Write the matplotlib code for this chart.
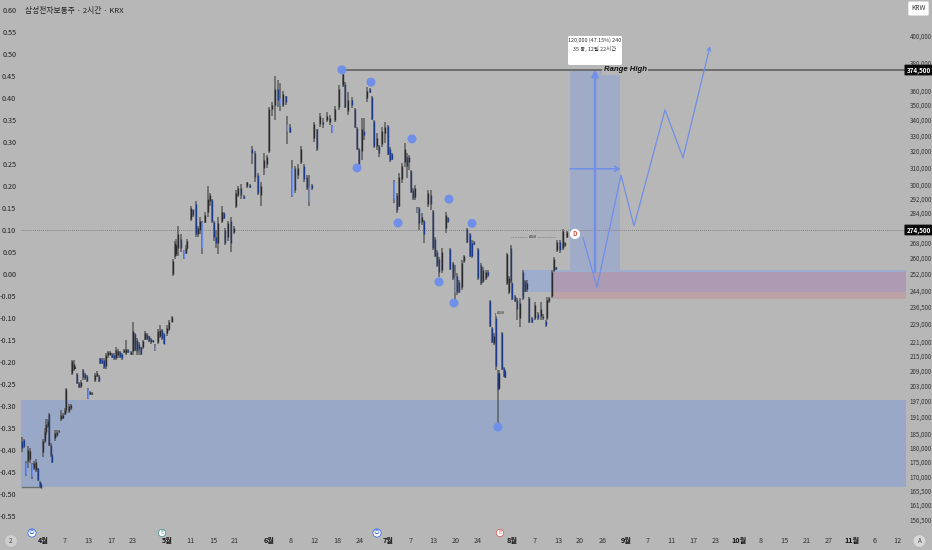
import matplotlib
matplotlib.use('Agg')
import matplotlib.pyplot as plt
from matplotlib.patches import Rectangle, FancyBboxPatch
from matplotlib.ticker import NullLocator

plt.rcParams['font.family'] = ['Noto Sans CJK KR', 'DejaVu Sans']
plt.rcParams['axes.unicode_minus'] = False

BG = '#b7b7b7'
NAVY = '#1c3a8c'
LIGHT = '#6f8fe8'

# chart time in bar units, then percent scale values
bar_time = [
    22, 24, 26, 28, 30, 32, 34, 36, 38, 40,
    41, 43, 45, 46, 48, 49, 51, 52, 55, 57,
    59, 61, 63, 65, 66, 69, 71, 72, 74, 75,
    77, 79, 81, 83, 85, 87, 88, 90, 92, 95,
    97, 99, 100, 102, 104, 106, 108, 110, 112, 114,
    116, 118, 120, 122, 124, 126, 128, 131, 133, 135,
    137, 139, 141, 143, 145, 147, 149, 151, 153, 155,
    158, 160, 162, 164, 167, 169, 172, 173, 175, 176,
    178, 181, 184, 186, 187, 191, 193, 196, 198, 200,
    202, 205, 208, 210, 212, 214, 216, 218, 222, 224,
    225, 228, 231, 234, 236, 238, 241, 244, 247, 250,
    252, 255, 258, 261, 264, 267, 269, 272, 275, 278,
    280, 283, 286, 287, 290, 292, 295, 298, 301, 304,
    307, 309, 312, 314, 317, 320, 323, 327, 330, 332,
    335, 339, 343, 345, 348, 352, 355, 357, 359, 362,
    364, 367, 370, 372, 374, 377, 379, 382, 385, 388,
    390, 392, 394, 397, 399, 402, 405, 407, 409, 411,
    413, 415, 417, 419, 422, 424, 428, 431, 433, 435,
    437, 439, 442, 446, 448, 450, 453, 455, 457, 459,
    462, 464, 467, 470, 472, 474, 478, 481, 483, 486,
    488, 490, 492, 494, 496, 498, 499, 502, 504, 505,
    507, 509, 511, 512, 515, 517, 520, 523, 525, 527,
    529, 532, 535, 538, 541, 543, 546, 547, 549, 552,
    554, 556, 557, 560, 563, 565, 567,
]
highs = [
    -.370, -.375, -.425, -.390, -.395, -.430, -.425, -.420, -.440, -.470,
    -.475, -.375, -.350, -.330, -.330, -.315, -.385, -.410, -.355, -.355,
    -.355, -.310, -.315, -.305, -.260, -.295, -.295, -.195, -.195, -.210,
    -.225, -.245, -.240, -.215, -.225, -.230, -.260, -.265, -.268, -.225,
    -.220, -.230, -.190, -.190, -.190, -.180, -.175, -.175, -.180, -.180,
    -.165, -.170, -.175, -.180, -.170, -.150, -.170, -.175, -.110, -.135,
    -.145, -.155, -.165, -.150, -.130, -.135, -.140, -.145, -.150, -.160,
    -.125, -.115, -.125, -.135, -.115, -.105, -.095, .035, .075, .080,
    .110, .090, .055, .065, .080, .155, .145, .165, .110, .130,
    .120, .140, .200, .185, .170, .120, .100, .130, .155, .140,
    .105, .120, .130, .110, .190, .200, .205, .180, .210, .205,
    .290, .280, .230, .210, .275, .270, .380, .390, .450, .440,
    .435, .415, .405, .360, .340, .260, .245, .250, .290, .250,
    .225, .225, .205, .345, .330, .365, .355, .368, .361, .339,
    .382, .430, .464, .437, .414, .402, .377, .334, .286, .355,
    .355, .425, .423, .405, .350, .320, .293, .334, .345, .339,
    .289, .275, .214, .184, .230, .252, .298, .275, .270, .236,
    .195, .202, .152, .152, .139, .123, .191, .191, .145, .084,
    .055, .039, .059, .141, .130, .059, .027, .020, .002, -.014,
    .032, .043, .105, .093, .077, .075, .059, .025, .016, .009,
    .009, -.059, -.120, -.134, -.089, -.218, -.218, -.132, -.211, -.218,
    .048, -.005, .066, -.018, -.048, -.055, -.055, .009, -.014, -.014,
    -.052, -.098, -.064, -.086, -.064, -.090, -.105, -.052, -.052, .009,
    .039, .016, .077, .077, .102, .073, .098,
]
lows = [
    -.405, -.395, -.460, -.440, -.430, -.465, -.445, -.450, -.470, -.485,
    -.487, -.415, -.385, -.365, -.350, -.390, -.415, -.430, -.380, -.370,
    -.360, -.335, -.330, -.320, -.315, -.315, -.310, -.230, -.220, -.215,
    -.250, -.260, -.260, -.240, -.240, -.245, -.285, -.275, -.275, -.245,
    -.235, -.245, -.205, -.205, -.215, -.215, -.190, -.185, -.190, -.195,
    -.195, -.190, -.190, -.195, -.180, -.185, -.180, -.185, -.185, -.175,
    -.185, -.185, -.185, -.170, -.150, -.150, -.155, -.160, -.155, -.175,
    -.160, -.145, -.150, -.160, -.140, -.130, -.110, -.005, .035, .040,
    .040, .050, .035, .045, .055, .120, .130, .085, .085, .090,
    .045, .115, .130, .155, .115, .075, .060, .045, .115, .125,
    .065, .075, .050, .090, .150, .175, .170, .170, .195, .195,
    .250, .210, .180, .155, .225, .240, .275, .360, .350, .380,
    .370, .380, .385, .295, .320, .175, .185, .215, .250, .210,
    .190, .155, .190, .300, .280, .335, .332, .345, .339, .320,
    .345, .373, .425, .377, .361, .377, .332, .282, .241, .259,
    .305, .391, .411, .350, .286, .282, .266, .289, .298, .270,
    .255, .259, .161, .139, .152, .207, .243, .218, .236, .184,
    .168, .168, .139, .100, .111, .070, .152, .145, .055, .039,
    .016, -.007, .002, .093, .116, .009, -.014, -.059, -.048, -.043,
    -.036, .025, .070, .039, .036, .066, -.014, -.025, -.020, -.014,
    -.007, -.120, -.157, -.161, -.218, -.348, -.264, -.218, -.234, -.236,
    -.025, -.045, -.020, -.059, -.064, -.105, -.120, -.059, -.041, -.041,
    -.111, -.111, -.105, -.105, -.105, -.105, -.120, -.105, -.066, -.055,
    .005, .009, .050, .048, .055, .062, .082,
]
opens = [
    -.380, -.378, -.430, -.425, -.420, -.432, -.440, -.445, -.442, -.472,
    -.478, -.405, -.380, -.360, -.345, -.318, -.388, -.412, -.372, -.365,
    -.359, -.330, -.328, -.318, -.310, -.312, -.305, -.225, -.215, -.214,
    -.228, -.248, -.255, -.218, -.228, -.232, -.262, -.272, -.273, -.240,
    -.232, -.232, -.192, -.195, -.195, -.210, -.185, -.183, -.182, -.185,
    -.190, -.185, -.177, -.182, -.178, -.180, -.172, -.182, -.175, -.137,
    -.150, -.158, -.167, -.165, -.148, -.137, -.142, -.148, -.151, -.162,
    -.155, -.140, -.128, -.137, -.135, -.125, -.108, .000, .040, .045,
    .060, .080, .054, .048, .058, .125, .148, .160, .090, .100,
    .118, .118, .140, .165, .168, .118, .085, .070, .120, .138,
    .100, .085, .120, .095, .155, .180, .195, .178, .200, .203,
    .285, .275, .225, .180, .240, .250, .280, .375, .385, .420,
    .400, .385, .405, .340, .335, .240, .240, .225, .255, .245,
    .220, .200, .202, .310, .330, .340, .345, .350, .345, .338,
    .350, .380, .430, .432, .370, .395, .375, .332, .284, .280,
    .325, .400, .420, .403, .348, .290, .290, .295, .320, .337,
    .285, .272, .212, .180, .155, .215, .255, .265, .255, .234,
    .192, .175, .150, .150, .118, .120, .160, .180, .143, .080,
    .050, .035, .010, .105, .128, .057, .025, -.005, -.005, -.018,
    -.030, .030, .103, .090, .070, .073, .057, .020, -.015, -.010,
    .005, -.062, -.122, -.157, -.100, -.225, -.260, -.135, -.213, -.220,
    -.020, -.040, .060, -.020, -.050, -.060, -.100, .005, -.015, -.035,
    -.055, -.100, -.100, -.090, -.095, -.095, -.107, -.100, -.062, -.050,
    .010, .015, .055, .072, .060, .065, .085,
]
closes = [
    -.395, -.392, -.455, -.400, -.402, -.460, -.430, -.428, -.468, -.482,
    -.486, -.380, -.358, -.340, -.335, -.388, -.412, -.428, -.362, -.358,
    -.356, -.320, -.320, -.310, -.262, -.300, -.298, -.198, -.205, -.211,
    -.248, -.256, -.245, -.235, -.236, -.243, -.282, -.268, -.270, -.230,
    -.225, -.243, -.202, -.203, -.212, -.185, -.178, -.178, -.188, -.190,
    -.172, -.175, -.188, -.192, -.172, -.170, -.178, -.177, -.130, -.172,
    -.175, -.170, -.182, -.153, -.135, -.147, -.152, -.155, -.154, -.173,
    -.130, -.128, -.145, -.158, -.122, -.110, -.098, .030, .070, .065,
    .090, .060, .036, .060, .075, .150, .135, .090, .105, .120,
    .060, .135, .170, .180, .120, .085, .070, .115, .140, .128,
    .070, .115, .070, .105, .185, .195, .180, .172, .208, .198,
    .275, .220, .185, .200, .260, .265, .375, .385, .420, .395,
    .385, .410, .390, .325, .322, .180, .190, .240, .285, .215,
    .195, .165, .196, .340, .285, .360, .340, .360, .355, .322,
    .375, .420, .455, .380, .395, .385, .335, .285, .243, .330,
    .315, .415, .414, .352, .290, .310, .275, .325, .335, .272,
    .258, .262, .170, .145, .220, .245, .285, .245, .265, .186,
    .172, .195, .140, .115, .130, .090, .185, .160, .060, .042,
    .020, .005, .050, .135, .120, .012, -.008, -.040, -.040, -.040,
    .025, .040, .072, .042, .040, .068, -.010, -.020, .010, .005,
    -.003, -.118, -.155, -.140, -.210, -.262, -.225, -.215, -.232, -.234,
    .045, -.010, -.015, -.057, -.062, -.080, -.065, -.055, -.038, -.020,
    -.108, -.108, -.070, -.100, -.080, -.100, -.116, -.060, -.055, .005,
    .035, .011, .072, .055, .098, .070, .096,
]
light_bars = [26, 32, 88, 155, 184, 202, 280, 287, 292, 309, 332, 394, 417, 455]

# left scale and right price scale labels
left_ticks = [.60, .55, .50, .45, .40, .35, .30, .25, .20, .15, .10, .05, 0,
              -.05, -.10, -.15, -.20, -.25, -.30, -.35, -.40, -.45, -.50, -.55]
price_ticks = [400000, 380000, 360000, 350000, 340000, 330000, 320000, 310000,
               300000, 292000, 284000, 276000, 268000, 260000, 252000, 244000,
               236500, 229000, 221000, 215000, 209000, 203000, 197000, 191000,
               185000, 180000, 175000, 170000, 165500, 161000, 156500]
time_ticks = [43, 65, 88, 111, 133, 167, 190, 213, 235, 269, 291, 314, 337, 360,
              388, 411, 433, 456, 478, 512, 535, 558, 580, 603, 626, 648, 671,
              693, 716, 739, 761, 784, 807, 829, 852, 875, 897]
time_labels = ['4월', '7', '13', '17', '23', '5월', '11', '15', '21', '6월', '8', '12',
               '18', '24', '7월', '7', '13', '20', '24', '8월', '7', '13', '20', '26',
               '9월', '7', '11', '17', '23', '10월', '8', '15', '21', '27', '11월', '6', '12']

# drawing tool values
swing_x = [342, 371, 357, 412, 398, 449, 439, 472, 454, 498]
swing_y = [.464, .436, .241, .307, .116, .170, -.018, .115, -.066, -.348]
path_x = [583, 597, 621, 634, 665, 683, 710]
path_y = [.082, -.030, .225, .109, .373, .264, .518]

fig = plt.figure(figsize=(9.32, 5.5), dpi=100, facecolor=BG)
ax = fig.add_axes([21 / 932, 15 / 550, 885 / 932, 535 / 550], facecolor=BG)
ax.set_xlim(21, 906)
ax.set_ylim(-.5932, .6227)
for s in ax.spines.values():
    s.set_visible(False)

# zones
ax.add_patch(Rectangle((21, -.484), 885, .198, fc='#9aa8c8', ec='none', zorder=1))
ax.add_patch(Rectangle((523, -.041), 383, .05, fc='#9fadcc', ec='none', zorder=1))
ax.add_patch(Rectangle((553, -.057), 353, .062, fc='#c0808c', ec='none', alpha=.4, zorder=1.1))
ax.add_patch(Rectangle((570, .009), 50, .455, fc='#a0abc8', ec='none', zorder=1))

ax.axhline(.1, color='#858585', lw=.7, ls=(0, (1, 1)), zorder=1.5)
ax.plot([342, 906], [.464, .464], color='#6e6e6e', lw=1.4, zorder=1.5)
ax.plot([22, 41], [-.484, -.484], color='#6e6e6e', lw=1, zorder=1.5)
ax.plot([511, 555], [.085, .085], color='#7d7d7d', lw=.6, ls=(0, (1, 1)), zorder=1.5)
ax.plot([496, 506], [-.089, -.089], color='#7d7d7d', lw=.6, ls=(0, (1, 1)), zorder=1.5)

# candles
ax.vlines(bar_time, lows, highs, color='#5a5a5a', lw=1.3, alpha=.8, zorder=2)
body_colors = []
for t, o, c in zip(bar_time, opens, closes):
    if t in light_bars:
        body_colors.append(LIGHT)
    elif c < o:
        body_colors.append(NAVY)
    else:
        body_colors.append('#2a2a2a')
ax.vlines(bar_time, opens, closes, colors=body_colors, lw=1.0, zorder=3)

ax.scatter(swing_x, swing_y, s=42, color=LIGHT, edgecolors='none', zorder=4)

# projection drawings
ax.plot(path_x[:-1], path_y[:-1], color=LIGHT, lw=.9, zorder=5)
ax.annotate('', xy=(path_x[-1], path_y[-1]), xytext=(path_x[-2], path_y[-2]), zorder=5,
            arrowprops=dict(arrowstyle='->', color=LIGHT, lw=.9, shrinkA=0, shrinkB=0,
                            mutation_scale=6))
ax.annotate('', xy=(595, .464), xytext=(595, .005), zorder=5,
            arrowprops=dict(arrowstyle='->', color=LIGHT, lw=1.7, shrinkA=0, shrinkB=0,
                            mutation_scale=9))
ax.annotate('', xy=(621, .239), xytext=(570, .239), zorder=5,
            arrowprops=dict(arrowstyle='->', color=LIGHT, lw=1.1, shrinkA=0, shrinkB=0,
                            mutation_scale=9))

ax.text(625, .464, 'Range High', family='Liberation Sans', fontsize=5.6, fontweight='bold',
        fontstyle='italic', color='#111111', ha='center', va='center', zorder=6,
        bbox=dict(fc=BG, ec='none', pad=1.2))
ax.text(533, .085, 'AGB', fontsize=3, color='#333333', ha='center', va='center', zorder=6,
        bbox=dict(fc=BG, ec='none', pad=.4))
ax.text(501, -.089, 'AGB', fontsize=3, color='#333333', ha='center', va='center', zorder=6,
        bbox=dict(fc=BG, ec='none', pad=.4))

# measure tooltip
ax.add_patch(FancyBboxPatch((568, .475), 54, .066, boxstyle='round,pad=0,rounding_size=1.5',
                            mutation_aspect=.0023, fc='white', ec='none', zorder=7))
ax.text(595, .531, '120,000 (47.15%) 240', fontsize=3.9, color='#333333', ha='center',
        va='center', zorder=8)
ax.text(595, .511, '35 봉, 12일 22시간', fontsize=3.9, color='#333333', ha='center',
        va='center', zorder=8)

# event badges
for bx, txt, col in [(32, '◎', '#3f6fe0'), (162, 'E', '#4f9a9a'),
                     (377, '◎', '#3f6fe0'), (500, 'E', '#d9655a')]:
    ax.text(bx, -.5886, txt, fontsize=4.2, color=col, ha='center', va='center', zorder=8,
            bbox=dict(boxstyle='circle,pad=.2', fc='white', ec=col, lw=.6))
ax.text(575, .091, 'D', fontsize=4.5, color='#d9553f', ha='center', va='center', zorder=8,
        fontweight='bold', bbox=dict(boxstyle='circle,pad=.25', fc='white', ec='none'))

ax.set_title('삼성전자보통주 · 2시간 · KRX', fontsize=5.6, color='#222222', loc='left',
             x=4 / 885, y=.98, pad=0, va='center')

# left axis
ax.set_yticks(left_ticks)
ax.set_yticklabels(['%.2f' % v for v in left_ticks], fontsize=5.2, color='#222222')
ax.tick_params(axis='y', length=0, pad=3.5)
# bottom axis
ax.set_xticks(time_ticks)
ax.set_xticklabels(time_labels, fontsize=5.2, color='#333333')
ax.tick_params(axis='x', length=0, pad=1.5)
for lab in ax.get_xticklabels():
    if lab.get_text().endswith('월'):
        lab.set_fontweight('bold')
        lab.set_color('#111111')

# right log scale follows the pixel scale of the left axis
ax2 = ax.twinx()
ax2.set_yscale('log')
ax2.set_ylim(274500 * 2.718281828 ** (-305 / 515), 274500 * 2.718281828 ** (230 / 515))
ax2.set_yticks(price_ticks)
ax2.set_yticklabels(['{:,}'.format(v) for v in price_ticks], fontsize=4.5, color='#333333')
ax2.yaxis.set_minor_locator(NullLocator())
ax2.tick_params(axis='y', length=0, pad=2.5)
for s in ax2.spines.values():
    s.set_visible(False)

for price in (374500, 274500):
    ax2.text(918.5, price, '{:,}'.format(price), fontsize=4.5, color='white', ha='center',
             va='center', clip_on=False, zorder=9, fontweight='bold',
             bbox=dict(fc='#0b0b0b', ec='none', boxstyle='round,pad=.3,rounding_size=.1'))

fig.text(918.5 / 932, 1 - 8.5 / 550, 'KRW', fontsize=4.8, color='#333333', ha='center', va='center',
         bbox=dict(fc='white', ec='none', boxstyle='round,pad=.45,rounding_size=.2'))
fig.text(11 / 932, 1 - 541 / 550, '2', fontsize=4.5, color='#444444', ha='center', va='center',
         bbox=dict(boxstyle='circle,pad=.3', fc='#cfcfcf', ec='none'))
fig.text(919.5 / 932, 1 - 541 / 550, 'A', fontsize=4.5, color='#444444', ha='center', va='center',
         bbox=dict(boxstyle='circle,pad=.3', fc='#d8d8d8', ec='none'))

fig.savefig('out.png', dpi=100, facecolor=BG)
